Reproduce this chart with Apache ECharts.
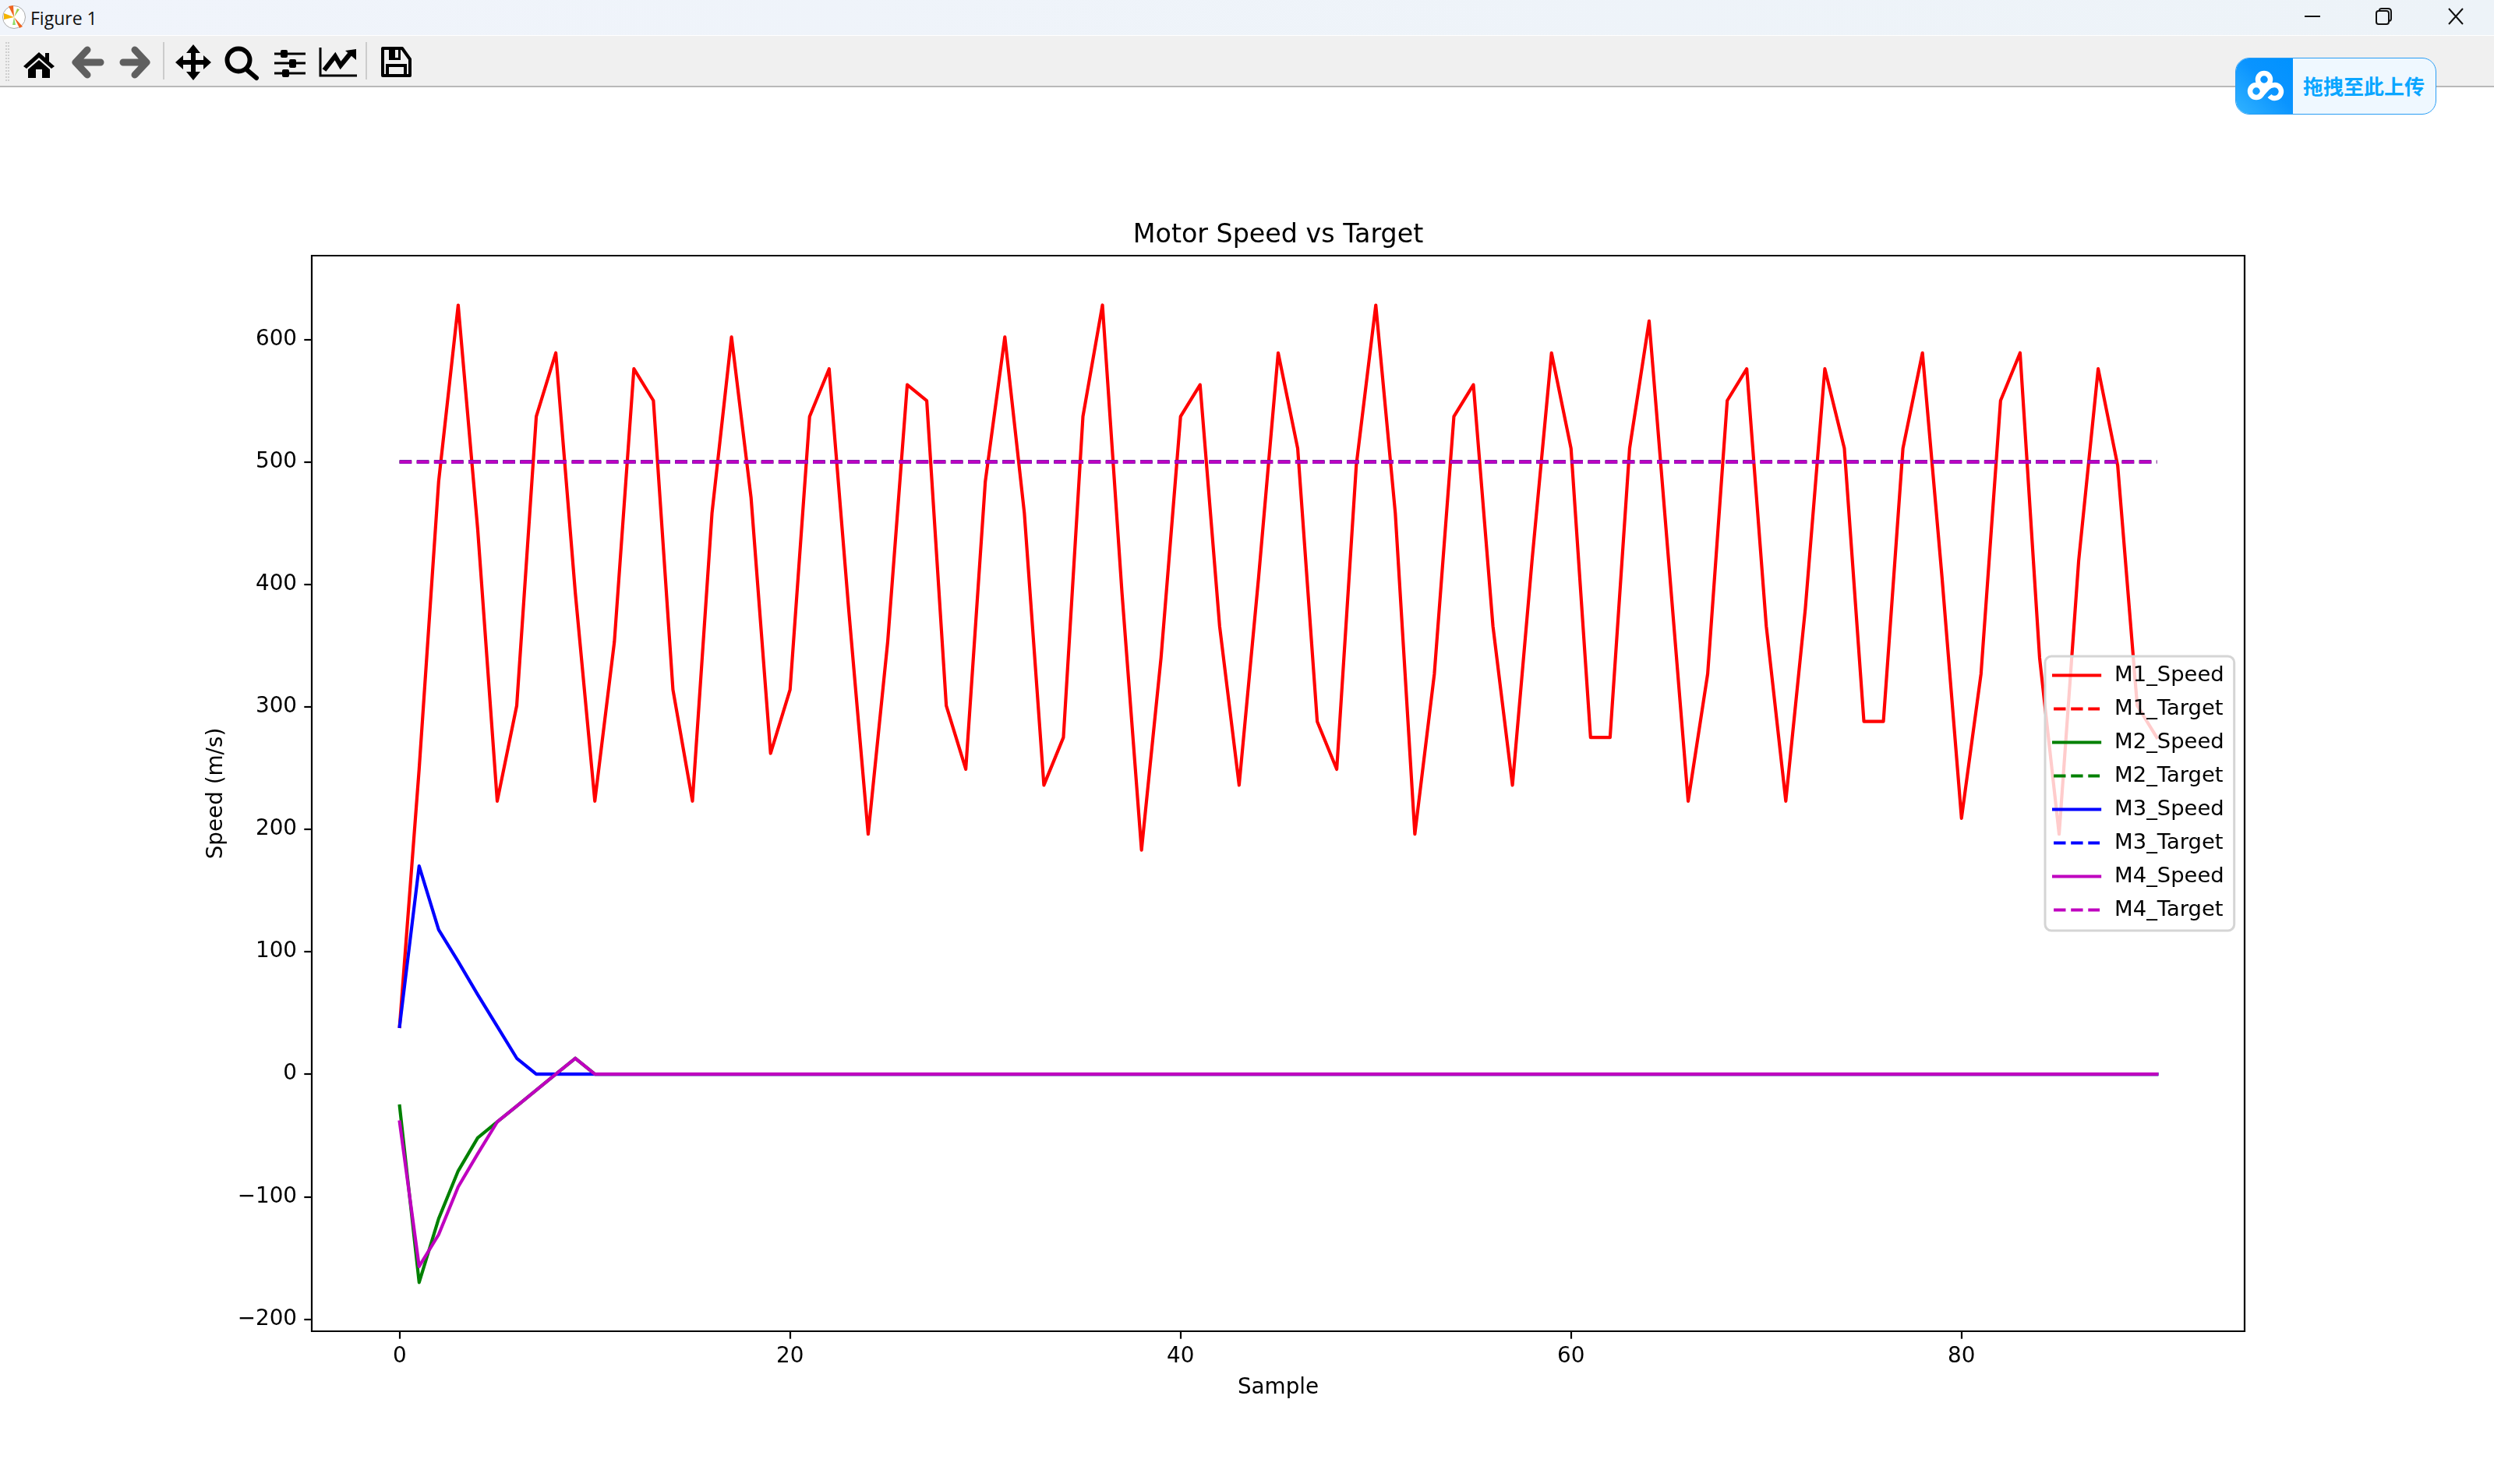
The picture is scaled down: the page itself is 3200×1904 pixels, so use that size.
<!DOCTYPE html>
<html>
<head lang="zh-CN">
    <meta charset="UTF-8">
    <title>Figure 1</title>
    <script src="https://cdn.jsdelivr.net/npm/echarts@6/dist/echarts.min.js"></script>
    <style>
        html, body { margin: 0; padding: 0; background: #fff; overflow: hidden; }
        #main { position: absolute; left: 0; top: 0; width: 3200px; height: 1904px; }
        .bar { position: absolute; left: 0; width: 3200px; }
        #titlebar { top: 0; height: 45px; background: linear-gradient(90deg, #f0f4fb, #edf3f8); }
        #toolbar { top: 46px; height: 64px; background: #f0f0f0; border-bottom: 2px solid #b9b9b9; }
        #wintitle { position: absolute; left: 39px; top: 7px; font: 23px/32px "Open Sans", sans-serif; color: #111; }
        .abs { position: absolute; left: 0; top: 0; }
        #upload { position: absolute; left: 2868px; top: 74px; width: 256px; height: 71px; border: 1px solid #2a9df4;
                  border-radius: 18px; background: #eff8ff; overflow: hidden; }
        #upload .ico { position: absolute; left: 0; top: 0; width: 73px; height: 73px; background: linear-gradient(45deg, #33b4ff, #0a94ff 55%, #0092ff); }
        #upload .txt { position: absolute; left: 86px; top: 17px; font: bold 26px/36px "Noto Sans CJK SC"; color: #0aa6ff; white-space: nowrap; }
    </style>
</head>
<body>
<div id="main"></div>
<!-- 窗口标题栏 -->
<div class="bar" id="titlebar">
    <svg class="abs" width="40" height="45">
        <circle cx="18" cy="22" r="14.5" fill="#fff" stroke="#aaa" stroke-width="1"/>
        <path d="M18 22 L11 8 L17 7 Z" fill="#f0641e"/>
        <path d="M18 22 L29 34 L25 36 Z" fill="#f0641e"/>
        <path d="M18 22 L5 17 L5 25 Z" fill="#f4b400"/>
        <path d="M18 22 L25 12 L22 11 Z" fill="#9ad04a"/>
        <path d="M18 22 L16 32 L20 32 Z" fill="#8fdc6a"/>
    </svg>
    <div id="wintitle">Figure 1</div>
    <svg class="abs" width="3200" height="45" style="pointer-events:none">
        <path d="M2957 21 H2977" stroke="#111" stroke-width="2"/>
        <rect x="3049" y="14" width="16" height="17" rx="3" fill="none" stroke="#111" stroke-width="2"/>
        <path d="M3053 14 V13 Q3053 11 3056 11 H3064 Q3068 11 3068 15 V24 Q3068 27 3065 27" fill="none" stroke="#111" stroke-width="2"/>
        <path d="M3142 11 L3160 31 M3160 11 L3142 31" stroke="#111" stroke-width="2"/>
    </svg>
</div>
<!-- 工具栏 -->
<div class="bar" id="toolbar"></div>
<svg class="abs" width="600" height="112">
    <path d="M8 54 V104 M11 54 V104" stroke="#c4c4c4" stroke-width="1.5" stroke-dasharray="2 2"/>
    <!-- home -->
    <path d="M30 85 L50 67 L58 74 V68 H63 V79 L70 85 L66 88 L50 74 L34 88 Z" fill="#000"/>
    <path d="M36 89 L50 77 L64 89 V100 H54 V89 H46 V100 H36 Z" fill="#000"/>
    <!-- back / forward -->
    <path d="M112 64 L97 80 L112 96 M97 80 H129" fill="none" stroke="#5f5f5f" stroke-width="9" stroke-linecap="round" stroke-linejoin="round"/>
    <path d="M173 64 L188 80 L173 96 M188 80 H158" fill="none" stroke="#5f5f5f" stroke-width="9" stroke-linecap="round" stroke-linejoin="round"/>
    <rect x="209" y="54" width="2" height="48" fill="#ccc"/>
    <!-- pan -->
    <path d="M248 64 V96 M231 80 H265" stroke="#000" stroke-width="6"/>
    <path d="M248 57 L257 68 H239 Z M248 103 L257 92 H239 Z M225 80 L235 71 V89 Z M271 80 L261 71 V89 Z" fill="#000"/>
    <!-- zoom -->
    <circle cx="306" cy="77" r="14.5" fill="none" stroke="#000" stroke-width="6"/>
    <path d="M316 89 L329 100" stroke="#000" stroke-width="6" stroke-linecap="round"/>
    <!-- sliders -->
    <path d="M352 69 H392 M352 81 H392 M352 94 H392" stroke="#000" stroke-width="3"/>
    <rect x="360" y="64" width="9" height="10" rx="2"/><rect x="371" y="76" width="9" height="11" rx="2"/><rect x="362" y="89" width="9" height="10" rx="2"/>
    <!-- subplots -->
    <path d="M411 61 V97 H458" fill="none" stroke="#000" stroke-width="3"/>
    <path d="M416 90 L430 72 L437 84 L450 68" fill="none" stroke="#000" stroke-width="6"/>
    <path d="M457 63 V77 L443 65 Z" fill="#000"/>
    <rect x="469" y="54" width="2" height="48" fill="#ccc"/>
    <!-- save -->
    <path d="M491 62 H516 L526 76 V97 H491 Z" fill="none" stroke="#000" stroke-width="4" stroke-linejoin="round"/>
    <rect x="499" y="62" width="15" height="15" fill="#000"/><rect x="507" y="64" width="4" height="10" fill="#f0f0f0"/>
    <path d="M497 97 V84 H520 V97" fill="none" stroke="#000" stroke-width="4"/>
</svg>
<!-- 上传按钮 -->
<div id="upload">
    <div class="ico">
        <svg width="73" height="73" viewBox="0 0 73 73">
            <g fill="none" stroke="#fff" stroke-width="6.5">
                <circle cx="36" cy="27" r="8"/>
                <circle cx="26" cy="42" r="8"/>
                <path d="M30 49 L40 38 Q44 34 49 34 A8.5 8.5 0 1 1 43 48"/>
            </g>
        </svg>
    </div>
    <div class="txt">拖拽至此上传</div>
</div>
<script type="text/javascript">
    // 采样点读数
    var M1_Speed = [39, 249, 484, 628, 445, 223, 301, 537, 589, 393,
        223, 353, 576, 550, 314, 223, 458, 602, 471, 262,
        314, 537, 576, 380, 196, 353, 563, 550, 301, 249,
        484, 602, 458, 236, 275, 537, 628, 393, 183, 340,
        537, 563, 366, 236, 406, 589, 511, 288, 249, 497,
        628, 458, 196, 327, 537, 563, 366, 236, 419, 589,
        511, 275, 275, 511, 615, 419, 223, 327, 550, 576,
        366, 223, 380, 576, 511, 288, 288, 511, 589, 406,
        209, 327, 550, 589, 340, 196, 419, 576, 497, 301, 275];
    var M2_Speed = [-26, -170, -118, -79, -52, -39, -26, -13, 0, 13,
        0, 0, 0, 0, 0, 0, 0, 0, 0, 0, 0, 0, 0, 0, 0, 0, 0, 0, 0, 0,
        0, 0, 0, 0, 0, 0, 0, 0, 0, 0, 0, 0, 0, 0, 0, 0, 0, 0, 0, 0,
        0, 0, 0, 0, 0, 0, 0, 0, 0, 0, 0, 0, 0, 0, 0, 0, 0, 0, 0, 0,
        0, 0, 0, 0, 0, 0, 0, 0, 0, 0, 0, 0, 0, 0, 0, 0, 0, 0, 0, 0, 0];
    var M3_Speed = [39, 170, 118, 92, 65, 39, 13, 0, 0, 0,
        0, 0, 0, 0, 0, 0, 0, 0, 0, 0, 0, 0, 0, 0, 0, 0, 0, 0, 0, 0,
        0, 0, 0, 0, 0, 0, 0, 0, 0, 0, 0, 0, 0, 0, 0, 0, 0, 0, 0, 0,
        0, 0, 0, 0, 0, 0, 0, 0, 0, 0, 0, 0, 0, 0, 0, 0, 0, 0, 0, 0,
        0, 0, 0, 0, 0, 0, 0, 0, 0, 0, 0, 0, 0, 0, 0, 0, 0, 0, 0, 0, 0];
    var M4_Speed = [-39, -157, -131, -92, -65, -39, -26, -13, 0, 13,
        0, 0, 0, 0, 0, 0, 0, 0, 0, 0, 0, 0, 0, 0, 0, 0, 0, 0, 0, 0,
        0, 0, 0, 0, 0, 0, 0, 0, 0, 0, 0, 0, 0, 0, 0, 0, 0, 0, 0, 0,
        0, 0, 0, 0, 0, 0, 0, 0, 0, 0, 0, 0, 0, 0, 0, 0, 0, 0, 0, 0,
        0, 0, 0, 0, 0, 0, 0, 0, 0, 0, 0, 0, 0, 0, 0, 0, 0, 0, 0, 0, 0];
    // 四路目标值相同
    var Target = [500, 500, 500, 500, 500, 500, 500, 500, 500, 500,
        500, 500, 500, 500, 500, 500, 500, 500, 500, 500,
        500, 500, 500, 500, 500, 500, 500, 500, 500, 500,
        500, 500, 500, 500, 500, 500, 500, 500, 500, 500,
        500, 500, 500, 500, 500, 500, 500, 500, 500, 500,
        500, 500, 500, 500, 500, 500, 500, 500, 500, 500,
        500, 500, 500, 500, 500, 500, 500, 500, 500, 500,
        500, 500, 500, 500, 500, 500, 500, 500, 500, 500,
        500, 500, 500, 500, 500, 500, 500, 500, 500, 500, 500];
    var xTicks = [0, 20, 40, 60, 80];
    var yTicks = [-200, -100, 0, 100, 200, 300, 400, 500, 600];

    var font = 'DejaVu Sans';
    var lw = 4.17;

    function speedSeries(name, values, color) {
        return {
            name: name,
            type: 'line',
            symbol: 'none',
            animation: false,
            data: values.map(function (v, i) { return [i, v]; }),
            lineStyle: { color: color, width: lw, cap: 'square', join: 'round' },
            itemStyle: { color: color }
        };
    }
    function targetSeries(name, color) {
        return {
            name: name,
            type: 'line',
            symbol: 'none',
            animation: false,
            data: Target.map(function (v, i) { return [i, v]; }),
            lineStyle: { color: color, width: lw, type: [15.4, 6.7], cap: 'butt' },
            itemStyle: { color: color }
        };
    }

    var myChart = echarts.init(document.getElementById('main'));
    myChart.setOption({
        animation: false,
        title: {
            text: 'Motor Speed vs Target',
            left: 1635,
            top: 281,
            textAlign: 'center',
            textStyle: { fontFamily: font, fontSize: 33.3, fontWeight: 'normal', color: '#000' }
        },
        legend: {
            orient: 'vertical',
            left: 2624,
            top: 842,
            padding: [11, 13, 13, 9],
            itemWidth: 59,
            itemHeight: 28,
            itemGap: 16,
            selectedMode: false,
            backgroundColor: 'rgba(255,255,255,0.8)',
            borderColor: '#d5d5d5',
            borderWidth: 3,
            borderRadius: 8,
            // 线型图例不画圆点
            itemStyle: { opacity: 0 },
            lineStyle: { width: lw },
            textStyle: { fontFamily: font, fontSize: 27.4, color: '#000', padding: [5, 0, 0, 14] },
            data: ['M1_Speed', 'M1_Target', 'M2_Speed', 'M2_Target', 'M3_Speed', 'M3_Target', 'M4_Speed', 'M4_Target']
        },
        grid: {
            show: true,
            left: 400,
            top: 328,
            width: 2480,
            height: 1380,
            borderColor: '#000',
            borderWidth: 2.2,
            backgroundColor: '#fff'
        },
        xAxis: {
            type: 'value',
            min: -4.5,
            max: 94.5,
            name: 'Sample',
            nameLocation: 'middle',
            nameGap: 59,
            nameTextStyle: { fontFamily: font, fontSize: 27.8, color: '#000' },
            splitLine: { show: false },
            axisLine: { show: false, onZero: false },
            axisTick: { show: true, length: 9.7, customValues: xTicks, lineStyle: { color: '#000', width: 2.2 } },
            axisLabel: { customValues: xTicks, margin: 19, fontFamily: font, fontSize: 27.8, color: '#000' }
        },
        yAxis: {
            type: 'value',
            min: -209.9,
            max: 668.4,
            name: 'Speed (m/s)',
            nameLocation: 'middle',
            nameGap: 108,
            nameRotate: 90,
            nameTextStyle: { fontFamily: font, fontSize: 27.8, color: '#000' },
            splitLine: { show: false },
            axisLine: { show: false, onZero: false },
            axisTick: { show: true, length: 9.7, customValues: yTicks, lineStyle: { color: '#000', width: 2.2 } },
            axisLabel: { customValues: yTicks, margin: 19, padding: [10, 0, 0, 0], fontFamily: font, fontSize: 27.8, color: '#000',
                formatter: function (v) { return String(v).replace('-', '\u2212'); } }
        },
        series: [
            speedSeries('M1_Speed', M1_Speed, '#ff0000'),
            targetSeries('M1_Target', '#ff0000'),
            speedSeries('M2_Speed', M2_Speed, '#008000'),
            targetSeries('M2_Target', '#008000'),
            speedSeries('M3_Speed', M3_Speed, '#0000ff'),
            targetSeries('M3_Target', '#0000ff'),
            speedSeries('M4_Speed', M4_Speed, '#bf00bf'),
            targetSeries('M4_Target', '#bf00bf')
        ]
    });
</script>
</body>
</html>
